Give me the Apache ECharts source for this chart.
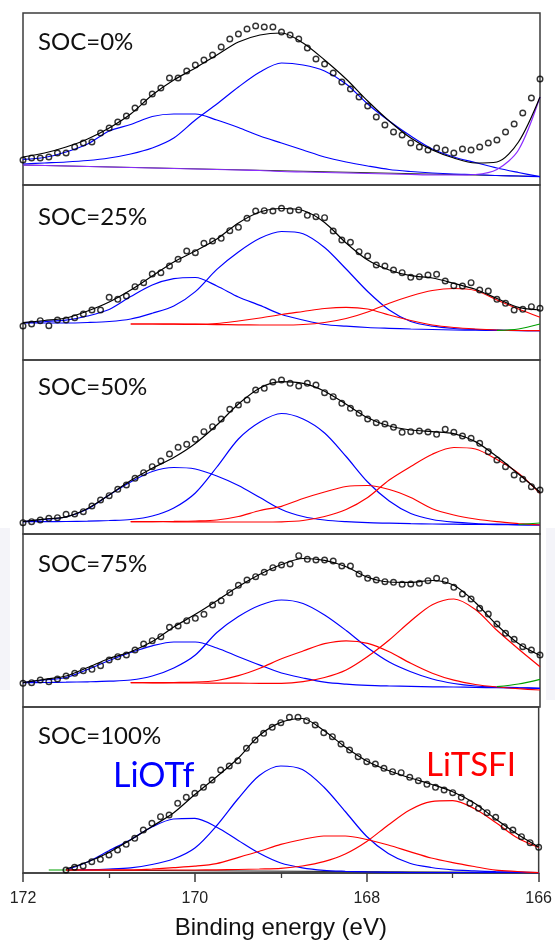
<!DOCTYPE html>
<html><head><meta charset="utf-8">
<script src="https://cdn.jsdelivr.net/npm/echarts@6/dist/echarts.min.js"></script>
<style>html,body{margin:0;padding:0;background:#fff}#c{width:555px;height:942px}</style>
</head><body><div id="c"></div><script>
// ---- data (binding energy in eV, intensity in arbitrary units per panel) ----
const energyPoints = [172.0,171.9,171.8,171.7,171.6,171.5,171.4,171.3,171.2,171.1,171.0,170.9,170.8,170.7,170.6,170.5,170.4,170.3,170.2,170.1,170.0,169.9,169.8,169.7,169.6,169.5,169.4,169.3,169.2,169.1,169.0,168.9,168.8,168.7,168.6,168.5,168.4,168.3,168.2,168.1,168.0,167.9,167.8,167.7,167.6,167.5,167.4,167.3,167.2,167.1,167.0,166.9,166.8,166.7,166.6,166.5,166.4,166.3,166.2,166.1,166.0];
const energyCurve = [172.0,171.75,171.5,171.25,171.0,170.75,170.5,170.25,170.0,169.75,169.5,169.25,169.0,168.75,168.5,168.25,168.0,167.75,167.5,167.25,167.0,166.75,166.5,166.25,166.0];
const panelLabels = ['SOC=0%','SOC=25%','SOC=50%','SOC=75%','SOC=100%'];
const xTicks = [172,170,168,166];

// SOC=0%
const soc0Points = [25,27,27,28,32,32,38,42,43,52,57,63,69,77,83,91,97,107,107,114,120,125,130,138,146,151,156,159,158,158,153,150,146,137,126,121,112,103,96,88,79,68,60,53,50,42,38,35,37,35,32,36,35,38,42,45,53,61,72,87,106];
const soc0Fit = [28,32,38,46,57,71,90,105,117,130,143,150,152,142,125,106,84,64,47,35,27,22,23,43,88];
const soc0PeakA = [25.7,27.5,33,41,54,60.5,68.5,71,71,65,57.5,49,42,35,28,23,19,15.5,13.5,12,11,10.5,9.5,9,8.3];
const soc0PeakB = [21,22,23,24.5,27,31,37,47,65,81,98,113,122,120,114,101,81,64,49,36,28,22.5,17,12.5,8.3];
const soc0Purple = [20,19.5,19,18.5,18,17.5,17,16.5,16,15.5,15,14.5,13.5,13,12.5,12,11.5,11,10.5,10,10,10.5,15.5,35,88];
const soc0Base = [[172,20],[166,8.5]];

// SOC=25%
const soc25Points = [34,36,39.3,34.3,40,40,42.3,46,50,50,62.7,60.7,64,73.3,77.3,86,87.3,94,100.7,109,107.3,116.7,119,121.7,129.3,132.7,141.7,149,149.3,149,151.7,149.3,150,144.7,143.3,142.3,129,120,117.7,108.3,104,95,94,90,87.3,82.7,83.3,85,85.7,79,74.3,74,77.3,70,69,60.7,56.7,50,50.7,53.3,51.7];
const soc25Fit = [37.3,39.5,42,49,58,70,84,98,109,121,137,148,151.5,149.5,137.6,117,100,90,84.3,82,76.7,70.8,61.5,52.6,50];
const soc25PeakA = [37.3,38.5,39.8,44,50.5,63.4,75,81.3,82.5,74,63,54.6,45.5,40,35.5,33.8,32.5,31.7,31,30.5,30,29.8,29.6,29.4,29.3];
const soc25PeakB = [37,37,37,37.5,38.5,41,46.8,54,68.4,90.6,108,121.7,128.5,126.3,112.5,91,68.5,50,38.5,33.8,31.5,30.5,30,29.5,29.3];
const soc25PeakC = [null,null,null,null,null,36,36,36,36,36.5,39,42,45.5,48.5,51.5,52.7,51,45,39.5,35,32.5,31,30,29.5,29.3];
const soc25PeakD = [null,null,null,null,null,36,36,35.8,35.6,35.4,35.2,35,35,35.5,37.5,41.5,48,56.7,64,69.5,71.5,69.5,60,51,42.7];
const soc25Green = [[166.5,29.6],[166.25,31],[166,36]];

// SOC=50%
const soc50Points = [11.3,12.3,14,15.7,16.3,19.7,20,22.3,28,34,38.3,44.7,49,55.7,61.3,67.3,73,80,86.7,89.7,94.7,102.3,107.3,115,124.7,129,134,144,145.7,152,154,150.7,148,150.7,149,141.3,137.3,130.7,125.7,120.7,115,111.3,110,106.7,101.7,102.3,103,102,99.7,104.7,101.7,98,95.7,90.7,82.3,74,67.3,59,54.7,47.3,44];
const soc50Fit = [12.3,14.9,17.2,25.5,39,53.4,65.7,76.6,90.6,109,130,146,152.3,150.6,142.8,129.7,116.3,108,104,102.3,100.4,92.4,77.4,60,42];
const soc50PeakA = [12.3,14.5,17,25,39,52,62.5,66.5,65,58,48.5,36.5,24.5,17.5,14,12.3,11.3,10.8,10.3,10,9.8,9.6,9.4,9.2,9];
const soc50PeakB = [12.3,12.4,12.5,12.8,13.5,14.5,18,26,41,67,95,112,120.5,115,101,77.5,52,33,20.5,14.5,11.8,10.5,9.8,9.3,9];
const soc50PeakC = [null,null,null,null,null,12.3,12.4,12.6,13,14,17.5,23.5,27.7,35.5,42,47.5,48.5,44.5,36.5,25.3,19,15,12.3,10.5,9];
const soc50PeakD = [null,null,null,null,null,12.3,12.3,12.2,12.1,12,12,12,12.2,13.5,17.5,24.5,36.5,54,67.5,79.8,86.5,85,74.5,60.8,40.7];
const soc50Green = [[166.25,9.5],[166,11]];

// SOC=75%
const soc75Points = [23.7,24.3,27,25.3,28,31,33.7,36.3,37.7,41.3,47,50.3,52,57,63,66.3,70.3,79.7,81,86.3,88.7,92.7,102,106.3,114.3,121.7,127,130.3,134.7,139.3,142,143,151.3,147.7,147,147,146,141,141,133,128.7,127,125.3,124.7,122.7,123,123.7,126.3,128.7,126.3,119.7,113,108,98.7,93,83,73.7,67.7,60.3,57,52];
const soc75Fit = [24.3,27.7,31,39.5,48.5,55.3,65.5,80,92.7,106.3,120.5,132.7,142.5,148.5,146.6,140.3,129.8,125,124.6,126.5,121.7,104.5,82,63.5,51.5];
const soc75PeakA = [24.3,27,29.5,37.5,46.5,54.5,61.2,65,65,59,50.3,41.9,34,29,24.8,22.8,21.6,21,20.6,20.2,20,19.6,19.3,19,18.7];
const soc75PeakB = [24.3,24.5,24.8,25.2,25.8,27,31,39,52,74.5,90.5,101.8,107,103.5,92,76.5,59.3,45,35.3,28,23.5,21,20,19.3,18.7];
const soc75PeakC = [null,null,null,null,null,24.3,24.3,24.5,24.8,26.5,31.3,38.8,48.2,56,63.3,66.2,63.7,55.3,43.7,33.8,26.8,22.5,20,18.3,17];
const soc75PeakD = [null,null,null,null,null,24.3,24.2,24.1,24,23.9,23.8,23.7,23.7,25.3,29.5,37,50.5,67,86,102.3,108,97.5,76.7,58,40.3];
const soc75Green = [[166.5,20.3],[166.25,23],[166,27.7]];

// SOC=100%
const soc100Points = [3,5.7,7,11.3,13.7,18,23,28.7,34.7,43,49.7,56.3,58,69.7,75.7,79.7,85.7,93,103,107,112.3,124.7,133,139.7,145.7,150.3,155.7,155.7,152.3,148,140.3,136.3,129,123,116.3,111.3,109,104.7,101.3,100.3,95.7,92.3,88.7,85.7,83,80.3,75.7,69.7,64.7,60.3,55.7,46.3,43,36.3,30.3,25.7];
const soc100Fit = [null,null,4,11,20.5,33,46.5,60,78.5,96,114.5,137.5,150.6,154.5,142.4,126,112,102.5,95.2,88.8,81.3,70,54,39,26];
const soc100PeakA = [null,null,3,11,22.3,33.3,46,54,54.6,46,32.8,19.7,10,5.2,2.7,1.7,1.1,0.7,0.4,0.3,0.3,0.3,0.3,0.3,0.3];
const soc100PeakB = [null,null,3,3.3,4,5.2,8.5,14,25,47,74,97.5,107,103.5,86,61.5,36.5,19.5,9.7,5.5,3.2,2.2,1.3,0.8,0.3];
const soc100PeakC = [null,null,3,3,3,3,4,5.3,6.8,9.4,15.4,21.7,28.6,33.5,37,37,33.5,28,21.4,15,10.4,6.5,2.9,1.5,0.3];
const soc100PeakD = [null,null,3,3,3,3,3,3,3,3.2,3.5,4,4.7,7,11.3,19,31.5,48,63,71.3,72.3,64.5,50.5,35.2,25.5];
const soc100Base = [[171.5,3],[166,0.3]];
const soc100Green = [[171.7,3],[171.35,3]];

// ---- layout / style ----
const boxTops = [13,185,360,534,707];
const boxHeights = [172,175,174,173,166];
const labelY = [42,217,387,564,736];
const BLUE='#0000ff', RED='#ff0000', GREEN='#00a000', PURPLE='#8c2cff';

function pairs(xs, ys){ const out=[]; ys.forEach((v,i)=>{ if(v!==null) out.push([xs[i],v]); }); return out; }
function line(idx, data, color, z, w){
  return {type:'line', xAxisIndex:idx, yAxisIndex:idx, data:data, smooth:0.3, showSymbol:false, symbol:'none',
    lineStyle:{color:color, width:w||1.2}, z:z||2, silent:true, clip:true};
}
function pts(idx, xs, ys){
  return {type:'scatter', xAxisIndex:idx, yAxisIndex:idx, data:pairs(xs,ys), symbol:'circle', symbolSize:5.6,
    itemStyle:{color:'rgba(255,255,255,0)', borderColor:'#000', borderWidth:1.4}, z:10, silent:true};
}

const series = [];
// panel 0
series.push(line(0, soc0Base, '#333', 1, 1.2));
series.push(line(0, pairs(energyCurve, soc0Purple), PURPLE, 3));
series.push(line(0, pairs(energyCurve, soc0PeakA), BLUE, 2));
series.push(line(0, pairs(energyCurve, soc0PeakB), BLUE, 2));
series.push(line(0, pairs(energyCurve, soc0Fit), '#000', 5));
series.push(pts(0, energyPoints, soc0Points));
// panel 1
series.push(line(1, pairs(energyCurve, soc25PeakA), BLUE, 2));
series.push(line(1, pairs(energyCurve, soc25PeakB), BLUE, 2));
series.push(line(1, pairs(energyCurve, soc25PeakC), RED, 3));
series.push(line(1, pairs(energyCurve, soc25PeakD), RED, 3));
series.push(line(1, soc25Green, GREEN, 3));
series.push(line(1, pairs(energyCurve, soc25Fit), '#000', 5));
series.push(pts(1, energyPoints, soc25Points));
// panel 2
series.push(line(2, pairs(energyCurve, soc50PeakA), BLUE, 2));
series.push(line(2, pairs(energyCurve, soc50PeakB), BLUE, 2));
series.push(line(2, pairs(energyCurve, soc50PeakC), RED, 3));
series.push(line(2, pairs(energyCurve, soc50PeakD), RED, 3));
series.push(line(2, soc50Green, GREEN, 3));
series.push(line(2, pairs(energyCurve, soc50Fit), '#000', 5));
series.push(pts(2, energyPoints, soc50Points));
// panel 3
series.push(line(3, pairs(energyCurve, soc75PeakA), BLUE, 2));
series.push(line(3, pairs(energyCurve, soc75PeakB), BLUE, 2));
series.push(line(3, pairs(energyCurve, soc75PeakC), RED, 3));
series.push(line(3, pairs(energyCurve, soc75PeakD), RED, 3));
series.push(line(3, soc75Green, GREEN, 3));
series.push(line(3, pairs(energyCurve, soc75Fit), '#000', 5));
series.push(pts(3, energyPoints, soc75Points));
// panel 4
series.push(line(4, soc100Base, '#333', 1, 1.2));
series.push(line(4, soc100Green, GREEN, 3));
series.push(line(4, pairs(energyCurve, soc100PeakA), BLUE, 2));
series.push(line(4, pairs(energyCurve, soc100PeakB), BLUE, 2));
series.push(line(4, pairs(energyCurve, soc100PeakC), RED, 3));
series.push(line(4, pairs(energyCurve, soc100PeakD), RED, 3));
series.push(line(4, pairs(energyCurve, soc100Fit), '#000', 5));
series.push(pts(4, energyPoints.slice(5), soc100Points));

const grids = boxTops.map((t,i)=>({left:23, right:15, top:t, height:boxHeights[i], show:true,
  borderColor:'#3c3c3c', borderWidth:1.5, backgroundColor:'rgba(0,0,0,0)', containLabel:false}));
const xAxes = boxTops.map((t,i)=>{
  const last = i===4;
  return {gridIndex:i, type:'value', min:166, max:172, interval:2, inverse:true,
    axisLine:{show:last, lineStyle:{color:'#3c3c3c', width:1.5}},
    axisTick:{show:last, length:9, lineStyle:{color:'#3c3c3c', width:1.5}},
    minorTick:{show:last, splitNumber:2, length:5, lineStyle:{color:'#3c3c3c', width:1.3}},
    axisLabel:{show:last, margin:18, fontSize:16, fontFamily:'Liberation Sans', color:'#222',
      showMinLabel:true, showMaxLabel:true,
      formatter:(v)=> xTicks.indexOf(v)>=0 ? String(v) : ''},
    splitLine:{show:false}, minorSplitLine:{show:false},
    name: last ? 'Binding energy (eV)' : '', nameLocation:'middle', nameGap:43,
    nameTextStyle:{fontSize:24, fontFamily:'Liberation Sans', color:'#111'}};
});
const yAxes = boxTops.map((t,i)=>({gridIndex:i, type:'value', min:0, max:boxHeights[i], show:false}));

const graphic = [
  {type:'rect', shape:{x:0,y:528,width:10,height:162}, style:{fill:'#f4f4f9'}, z:-1, silent:true},
  {type:'rect', shape:{x:546,y:528,width:9,height:172}, style:{fill:'#f4f4f9'}, z:-1, silent:true}
];
panelLabels.forEach((s,i)=>{
  graphic.push({type:'text', x:38, y:labelY[i], z:20, silent:true,
    style:{text:s, fontSize:24, fontFamily:'Lato', fill:'#111', verticalAlign:'middle', align:'left'}});
});
graphic.push({type:'text', x:113, y:776, z:20, silent:true,
  style:{text:'LiOTf', fontSize:34, fontFamily:'Lato', fill:BLUE, verticalAlign:'middle', align:'left'}});
graphic.push({type:'text', x:426, y:765, z:20, silent:true,
  style:{text:'LiTSFI', fontSize:33, fontFamily:'Lato', fill:RED, verticalAlign:'middle', align:'left'}});

const chart = echarts.init(document.getElementById('c'), null, {renderer:'canvas'});
chart.setOption({animation:false, backgroundColor:'#fff', grid:grids, xAxis:xAxes, yAxis:yAxes, series:series, graphic:graphic});
</script></body></html>
